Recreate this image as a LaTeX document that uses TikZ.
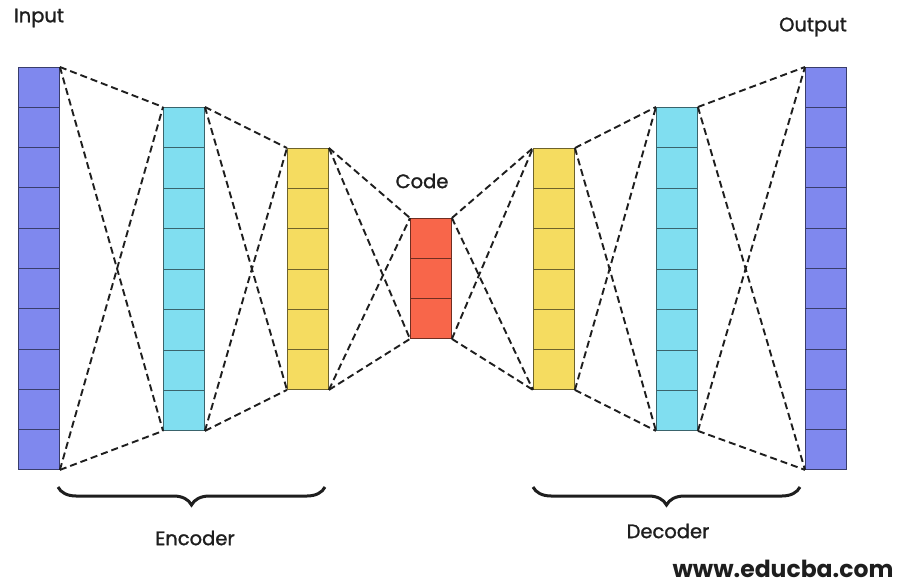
\documentclass[tikz,border=0pt]{standalone}
\usepackage{fontspec}
\setmainfont{Poppins}
\newfontfamily\labelfont{Poppins}[FakeBold=1.3]
\usetikzlibrary{calc,decorations.pathreplacing}

\definecolor{inblue}{HTML}{7F88EE}
\definecolor{hidcyan}{HTML}{80DEF0}
\definecolor{hidyellow}{HTML}{F5DC60}
\definecolor{codered}{HTML}{F8664A}
\definecolor{inkgray}{HTML}{1E1E1E}

\tikzset{
  layerbox/.style={draw=#1!45!black, fill=#1, line width=0.9pt, inner sep=0pt,
                   anchor=north west, minimum width=41pt},
  divider/.style={draw=#1!45!black, line width=0.8pt},
  link/.style={dash pattern=on 7pt off 4pt, line width=1.9pt, inkgray},
  lbl/.style={font=\labelfont\fontsize{19.5}{22}\selectfont, text=inkgray},
  brc/.style={decorate, decoration={brace, mirror, amplitude=18pt}, line width=3pt, inkgray}
}

\begin{document}
\begin{tikzpicture}[x=1pt, y=-1pt]
  \fill[white] (0,0) rectangle (905,585);
  \useasboundingbox (0,0) rectangle (905,585);

  % layers: name / left / top / height / cells / colour
  \foreach \nm/\lx/\ty/\h/\n/\c in {
      in/18/67/402/10/inblue,
      e1/163/107/323/8/hidcyan,
      e2/287/148/241/6/hidyellow,
      code/410/218/120/3/codered,
      d2/533/148/241/6/hidyellow,
      d1/656/107/323/8/hidcyan,
      out/805/67/402/10/inblue} {
    \node[layerbox=\c, minimum height=\h pt] (\nm) at (\lx,\ty) {};
    \pgfmathtruncatemacro\m{\n-1}
    \foreach \i in {1,...,\m}
      \draw[divider=\c] ($(\nm.north west)!\i/\n!(\nm.south west)$) --
                        ($(\nm.north east)!\i/\n!(\nm.south east)$);
  }

  % fully connected dashed links between consecutive layers
  \foreach \a/\b in {in/e1, e1/e2, e2/code, code/d2, d2/d1, d1/out} {
    \draw[link] (\a.north east) -- (\b.north west);
    \draw[link] (\a.north east) -- (\b.south west);
    \draw[link] (\a.south east) -- (\b.north west);
    \draw[link] (\a.south east) -- (\b.south west);
  }

  % braces
  \coordinate (encL) at (58,487);
  \coordinate (encR) at (325,487);
  \coordinate (decL) at (533,487);
  \coordinate (decR) at (800,487);
  \draw[brc] (encL) -- (encR);
  \draw[brc] (decL) -- (decR);

  % labels
  \node[lbl] (tin) at (39,18) {Input};
  \node[lbl] (tout) at (813,27) {Output};
  \node[lbl] (tcode) at (422,181) {Code};
  \node[lbl] (tenc) at (195,538) {Encoder};
  \node[lbl] (tdec) at (668,531) {Decoder};
  \node[font=\fontsize{23.5}{26}\selectfont\bfseries, text=inkgray, inner sep=1pt] (web) at (783,569) {www.educba.com};
\end{tikzpicture}
\end{document}
